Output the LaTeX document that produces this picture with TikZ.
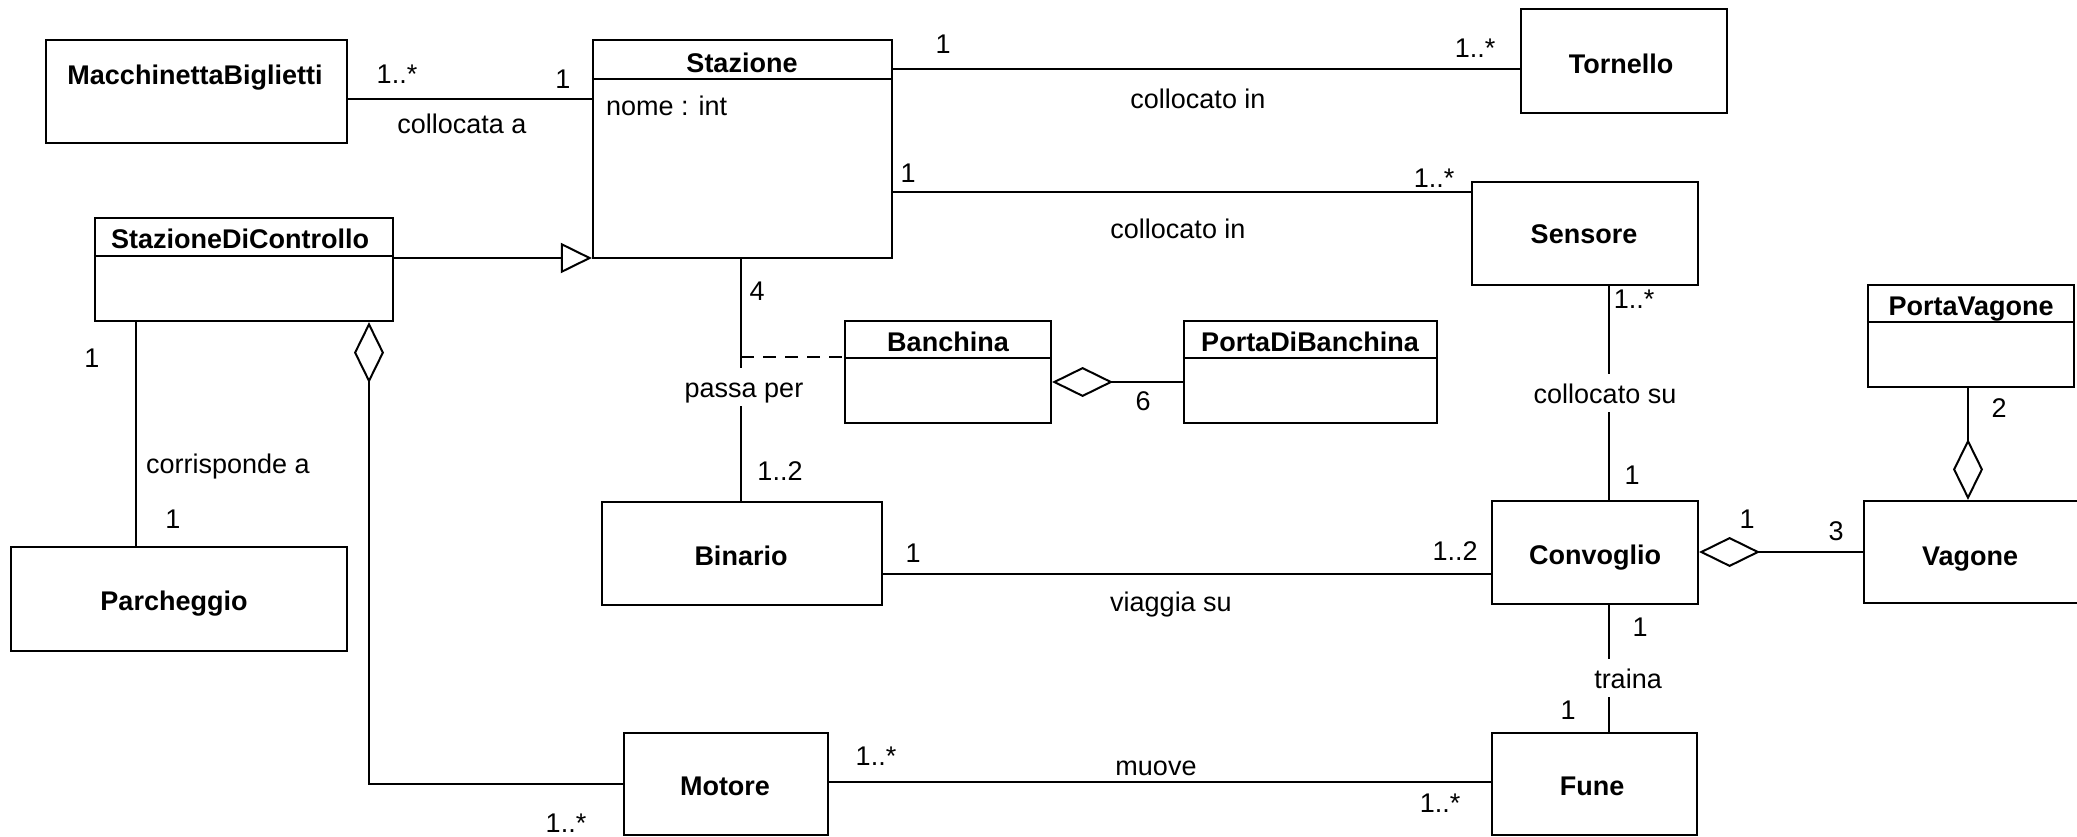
\documentclass[tikz,border=0pt]{standalone}
\usepackage{fontspec}
\setmainfont{Liberation Sans}
\usetikzlibrary{arrows.meta,calc}
\begin{document}
\begin{tikzpicture}[x=1pt,y=-1pt,
  box/.style={draw, line width=2.2pt, inner sep=0pt, font=\fontsize{27}{32}\selectfont\bfseries},
  cname/.style={inner sep=0pt, anchor=base, font=\fontsize{27}{32}\selectfont\bfseries},
  lbl/.style={inner sep=0pt, anchor=base, font=\fontsize{27}{32}\selectfont},
  glbl/.style={lbl, fill=white, text height=24pt, text depth=4pt, inner xsep=2pt, inner ysep=5pt},
  assoc/.style={draw, line width=2pt},
  aggr/.style={assoc, {Diamond[open,length=61pt,width=30pt]}-},
  gen/.style={assoc, -{Triangle[open,length=31pt,width=30pt]}},
  sep/.style={line width=2.2pt},
  dashedlink/.style={line width=2pt, dash pattern=on 13pt off 9pt},
]
\fill[white] (0,0) rectangle (2077,836);
\useasboundingbox (0,0) rectangle (2077,836);

% ---------- classes ----------
\node[box, minimum width=301pt, minimum height=103pt] (macc) at (196.5,91.5) {};
\node[cname] at (195,84) {MacchinettaBiglietti};

\node[box, minimum width=299pt, minimum height=218pt] (staz) at (742.5,149) {};
\draw[sep] (staz.west |- 0,79) -- (staz.east |- 0,79);
\node[cname] at (742,72) {Stazione};
\node[lbl, anchor=base west] at (606,115) {nome : int};

\node[box, minimum width=298pt, minimum height=103pt] (sdc) at (244,269.5) {};
\draw[sep] (sdc.west |- 0,256) -- (sdc.east |- 0,256);
\node[cname] at (240,248) {StazioneDiControllo};

\node[box, minimum width=206pt, minimum height=104pt] (torn) at (1624,61) {};
\node[cname] at (1621,73) {Tornello};

\node[box, minimum width=226pt, minimum height=103pt] (sens) at (1585,233.5) {};
\node[cname] at (1584,243) {Sensore};

\node[box, minimum width=206pt, minimum height=102pt] (banc) at (948,372) {};
\draw[sep] (banc.west |- 0,358) -- (banc.east |- 0,358);
\node[cname] at (948,351) {Banchina};

\node[box, minimum width=253pt, minimum height=102pt] (pdb) at (1310.5,372) {};
\draw[sep] (pdb.west |- 0,358) -- (pdb.east |- 0,358);
\node[cname] at (1310,351) {PortaDiBanchina};

\node[box, minimum width=206pt, minimum height=102pt] (pv) at (1971,336) {};
\draw[sep] (pv.west |- 0,322) -- (pv.east |- 0,322);
\node[cname] at (1971,315) {PortaVagone};

\node[box, minimum width=336pt, minimum height=104pt] (parc) at (179,599) {};
\node[cname] at (174,610) {Parcheggio};

\node[box, minimum width=280pt, minimum height=103pt] (bin) at (742,553.5) {};
\node[cname] at (741,565) {Binario};

\node[box, minimum width=206pt, minimum height=103pt] (conv) at (1595,552.5) {};
\node[cname] at (1595,564) {Convoglio};

\node[box, minimum width=214pt, minimum height=102pt] (vag) at (1971,552) {};
\node[cname] at (1970,565) {Vagone};

\node[box, minimum width=204pt, minimum height=102pt] (mot) at (726,784) {};
\node[cname] at (725,795) {Motore};

\node[box, minimum width=205pt, minimum height=102pt] (fune) at (1594.5,784) {};
\node[cname] at (1592,795) {Fune};

% ---------- connectors ----------
% MacchinettaBiglietti - Stazione
\draw[assoc] (macc.east |- 0,99) -- (staz.west |- 0,99);
\node[lbl] at (397,83) {1..*};
\node[lbl] at (563,88) {1};
\node[lbl] at (462,133) {collocata a};

% Stazione - Tornello
\draw[assoc] (staz.east |- 0,69) -- (torn.west |- 0,69);
\node[lbl] at (943,53) {1};
\node[lbl] at (1475,57) {1..*};
\node[lbl] at (1198,108) {collocato in};

% Stazione - Sensore
\draw[assoc] (staz.east |- 0,192) -- (sens.west |- 0,192);
\node[lbl] at (908,182) {1};
\node[lbl] at (1434,187) {1..*};
\node[lbl] at (1178,238) {collocato in};

% StazioneDiControllo -> Stazione (generalization)
\draw[gen] (sdc.east |- 0,258) -- (staz.west |- 0,258);

% Stazione - Binario (passa per) with association class Banchina
\draw[assoc] (staz.south -| 741,0) -- (bin.north -| 741,0);
\coordinate (ac) at (741,357);
\draw[dashedlink] (ac) -- (banc.west |- ac);
\node[glbl] at (744,397) {passa per};
\node[lbl] at (757,300) {4};
\node[lbl] at (780,480) {1..2};

% Banchina <>- PortaDiBanchina
\draw[aggr] (banc.east |- 0,382) -- (pdb.west |- 0,382);
\node[lbl] at (1143,410) {6};

% StazioneDiControllo - Parcheggio
\draw[assoc] (sdc.south -| 136,0) -- (parc.north -| 136,0);
\node[glbl] at (228,473) {corrisponde a};
\node[lbl] at (92,367) {1};
\node[lbl] at (173,528) {1};

% StazioneDiControllo <>- Motore
\draw[aggr] (sdc.south -| 369,0) |- (mot.west);
\node[lbl] at (566,832) {1..*};

% Sensore - Convoglio
\draw[assoc] (sens.south -| 1609,0) -- (conv.north -| 1609,0);
\node[glbl] at (1605,403) {collocato su};
\node[lbl] at (1634,308) {1..*};
\node[lbl] at (1632,484) {1};

% Binario - Convoglio
\draw[assoc] (bin.east |- 0,574) -- (conv.west |- 0,574);
\node[lbl] at (913,562) {1};
\node[lbl] at (1455,560) {1..2};
\node[lbl] at (1171,611) {viaggia su};

% Convoglio <>- Vagone
\draw[aggr] (conv.east |- 0,552) -- (vag.west |- 0,552);
\node[lbl] at (1747,528) {1};
\node[lbl] at (1836,540) {3};

% Vagone <>- PortaVagone
\draw[aggr] (vag.north -| 1968,0) -- (pv.south -| 1968,0);
\node[lbl] at (1999,417) {2};

% Convoglio - Fune
\draw[assoc] (conv.south -| 1609,0) -- (fune.north -| 1609,0);
\node[glbl] at (1628,688) {traina};
\node[lbl] at (1640,636) {1};
\node[lbl] at (1568,719) {1};

% Motore - Fune
\draw[assoc] (mot.east |- 0,782) -- (fune.west |- 0,782);
\node[lbl] at (876,765) {1..*};
\node[lbl] at (1440,812) {1..*};
\node[lbl] at (1156,775) {muove};
\end{tikzpicture}
\end{document}
